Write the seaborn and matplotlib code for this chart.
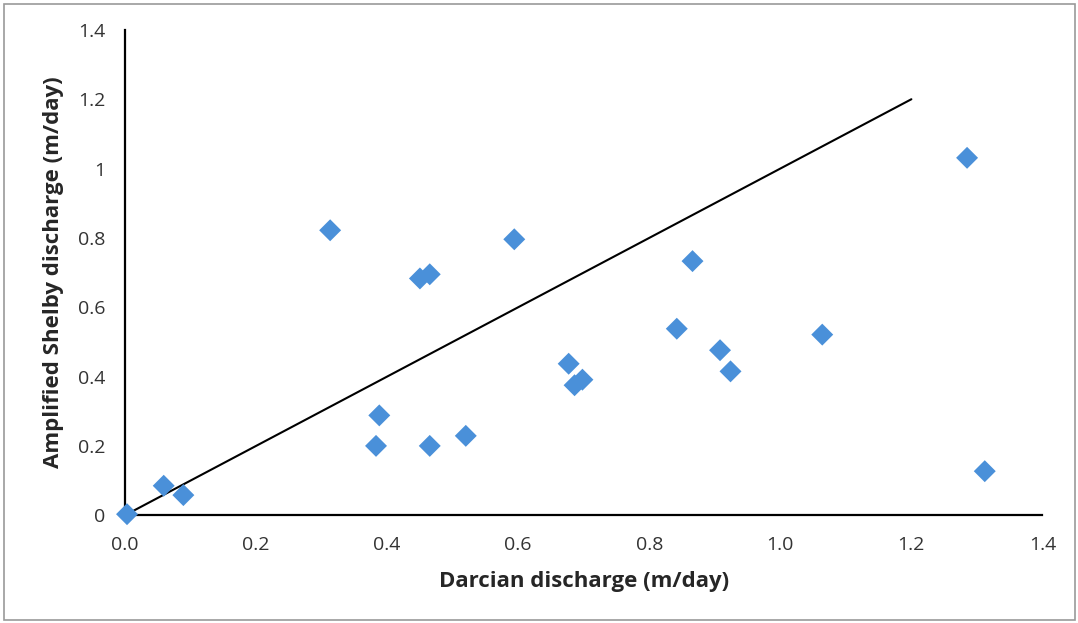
import matplotlib
matplotlib.use("Agg")
import matplotlib.pyplot as plt
import seaborn as sns
import pandas as pd
from matplotlib.patches import Rectangle

# Data
darcian = [0.003, 0.059, 0.089, 0.313, 0.383, 0.388, 0.450, 0.465, 0.465, 0.520,
           0.594, 0.677, 0.686, 0.698, 0.842, 0.866, 0.908, 0.924, 1.064, 1.285, 1.312]
shelby = [0.003, 0.085, 0.058, 0.822, 0.200, 0.288, 0.683, 0.695, 0.200, 0.229,
          0.796, 0.437, 0.375, 0.391, 0.538, 0.733, 0.476, 0.415, 0.521, 1.031, 0.127]
line_x = [0.0, 1.2]
line_y = [0.0, 1.2]

df = pd.DataFrame({'darcian': darcian, 'shelby': shelby})
df_line = pd.DataFrame({'x': line_x, 'y': line_y})

sns.set_style("white")
plt.rcParams['font.family'] = ['Open Sans', 'DejaVu Sans']

fig = plt.figure(figsize=(10.78, 6.23), dpi=100)
ax = fig.add_axes([0.116, 0.173, 0.851, 0.779])

sns.lineplot(data=df_line, x='x', y='y', color='black', linewidth=1.5, ax=ax)
sns.scatterplot(data=df, x='darcian', y='shelby', marker='D', s=125,
                color='#4a90d9', edgecolor='none', ax=ax, zorder=3, clip_on=False)

ax.set_xlim(0, 1.4)
ax.set_ylim(0, 1.4)
ax.set_xticks([0, 0.2, 0.4, 0.6, 0.8, 1.0, 1.2, 1.4])
ax.set_xticklabels(['0.0', '0.2', '0.4', '0.6', '0.8', '1.0', '1.2', '1.4'])
ax.set_yticks([0, 0.2, 0.4, 0.6, 0.8, 1.0, 1.2, 1.4])
ax.set_yticklabels(['0', '0.2', '0.4', '0.6', '0.8', '1', '1.2', '1.4'])

for side in ['top', 'right']:
    ax.spines[side].set_visible(False)
for side in ['left', 'bottom']:
    ax.spines[side].set_color('black')
    ax.spines[side].set_linewidth(1.6)

ax.tick_params(axis='both', direction='out', length=5, width=1.3, color='black',
               labelsize=14, labelcolor='#333333')
ax.tick_params(axis='x', pad=10)
ax.tick_params(axis='y', pad=9)
ax.set_xlabel('Darcian discharge (m/day)', fontsize=16, fontweight='bold', labelpad=12)
ax.set_ylabel('Amplified Shelby discharge (m/day)', fontsize=16, fontweight='bold', labelpad=10)

# outer chart border
fig.patches.append(Rectangle((0.004, 0.005), 0.993, 0.988, transform=fig.transFigure,
                             fill=False, edgecolor='#9a9a9a', linewidth=1.2))

fig.savefig('out.png', dpi=100)
